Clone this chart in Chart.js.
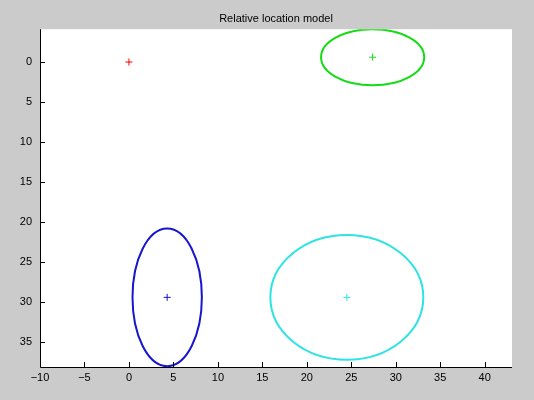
<!DOCTYPE html>
<html>
<head>
<meta charset="utf-8">
<script src="https://cdn.jsdelivr.net/npm/chart.js@4/dist/chart.umd.min.js"></script>
<style>
    html, body { margin: 0; padding: 0; background: #cbcbcb; }
    #wrap { width: 534px; height: 400px; }
</style>
</head>
<body>
<div id="wrap"><canvas id="locChart" width="534" height="400"></canvas></div>
<script>
// part centres (red one is the reference part)
const partNames = ['ref', 'green', 'blue', 'cyan'];
const partX = [0, 27.4, 4.3, 24.5];
const partY = [0, -0.6, 29.4, 29.4];
const partColors = ['#ff0000', '#14dc14', '#1616cc', '#2de3e3'];

// spread ellipses around centres (none for the reference part)
const ellipseParts = [1, 2, 3];
const ellipseRx = [5.8, 3.9, 8.6];
const ellipseRy = [3.5, 8.6, 7.8];

const xTicks = [-10, -5, 0, 5, 10, 15, 20, 25, 30, 35, 40];
const yTicks = [0, 5, 10, 15, 20, 25, 30, 35];

const FONT = 'Liberation Sans, Arial, Helvetica, sans-serif';

// white axes background + axis lines, inward ticks, ellipses
const matlabAxes = {
    id: 'matlabAxes',
    beforeDatasetsDraw(chart) {
        const { ctx, chartArea: a, scales } = chart;
        ctx.save();
        ctx.fillStyle = '#ffffff';
        ctx.fillRect(a.left, a.top, a.right - a.left, a.bottom - a.top);

        // ellipses
        ctx.beginPath();
        ctx.rect(a.left, a.top, a.right - a.left, a.bottom - a.top);
        ctx.clip();
        ellipseParts.forEach((p, i) => {
            const cx = scales.x.getPixelForValue(partX[p]);
            const cy = scales.y.getPixelForValue(partY[p]);
            const rx = Math.abs(scales.x.getPixelForValue(partX[p] + ellipseRx[i]) - cx);
            const ry = Math.abs(scales.y.getPixelForValue(partY[p] + ellipseRy[i]) - cy);
            ctx.beginPath();
            ctx.ellipse(cx, cy, rx, ry, 0, 0, Math.PI * 2);
            ctx.strokeStyle = partColors[p];
            ctx.lineWidth = 2;
            ctx.stroke();
        });
        ctx.restore();
    },
    afterDraw(chart) {
        const { ctx, chartArea: a, scales } = chart;
        ctx.save();
        ctx.strokeStyle = '#000000';
        ctx.lineWidth = 1;
        ctx.beginPath();
        ctx.moveTo(a.left + 0.5, a.top);
        ctx.lineTo(a.left + 0.5, a.bottom + 0.5);
        ctx.lineTo(a.right, a.bottom + 0.5);
        xTicks.forEach(v => {
            const px = Math.round(scales.x.getPixelForValue(v)) + 0.5;
            ctx.moveTo(px, a.bottom);
            ctx.lineTo(px, a.bottom - 5);
        });
        yTicks.forEach(v => {
            const py = Math.round(scales.y.getPixelForValue(v)) + 0.5;
            ctx.moveTo(a.left, py);
            ctx.lineTo(a.left + 5, py);
        });
        ctx.stroke();
        ctx.restore();
    }
};

const keepTicks = list => scale => {
    scale.ticks = list.map(v => ({ value: v }));
};

const ctx = document.getElementById('locChart').getContext('2d');
const locChart = new Chart(ctx, {
    type: 'scatter',
    data: {
        datasets: partNames.map((name, i) => ({
            label: name,
            data: [{ x: partX[i], y: partY[i] }],
            pointStyle: 'cross',
            radius: 3.5,
            borderWidth: 1,
            borderColor: partColors[i],
            backgroundColor: partColors[i]
        }))
    },
    options: {
        responsive: false,
        animation: false,
        layout: {
            padding: { top: 0, right: 22, left: 0, bottom: 0 }
        },
        plugins: {
            legend: { display: false },
            tooltip: { enabled: false },
            title: {
                display: true,
                text: 'Relative location model',
                fullSize: false,
                color: '#000000',
                font: { family: FONT, size: 11, weight: 'normal', lineHeight: 1.2 },
                padding: { top: 12, bottom: 4 }
            }
        },
        scales: {
            x: {
                type: 'linear',
                min: -10,
                max: 43.07,
                afterBuildTicks: keepTicks(xTicks),
                afterFit: s => { s.height = 33; },
                grid: { display: false, drawTicks: false },
                border: { display: false },
                ticks: {
                    color: '#000000',
                    padding: 4,
                    maxRotation: 0,
                    font: { family: FONT, size: 11 },
                    callback: v => String(v).replace('-', '\u2212')
                }
            },
            y: {
                type: 'linear',
                reverse: true,
                min: -4.1,
                max: 38.1,
                afterBuildTicks: keepTicks(yTicks),
                afterFit: s => { s.width = 40; },
                grid: { display: false, drawTicks: false },
                border: { display: false },
                ticks: {
                    color: '#000000',
                    padding: 8,
                    font: { family: FONT, size: 11 }
                }
            }
        }
    },
    plugins: [matlabAxes]
});
</script>
</body>
</html>
